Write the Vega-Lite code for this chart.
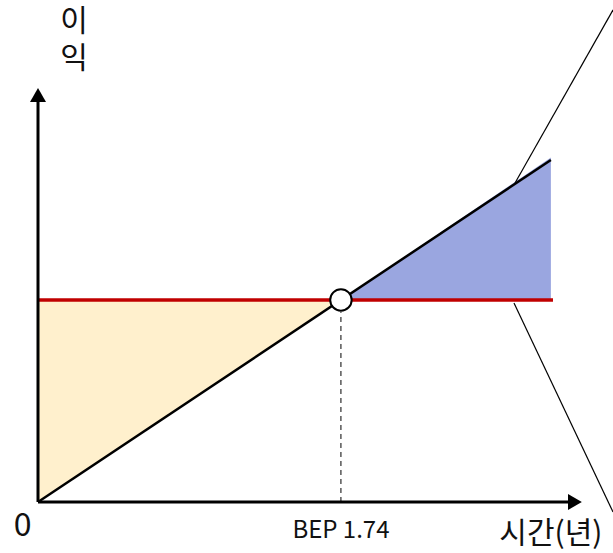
{
  "$schema": "https://vega.github.io/schema/vega-lite/v6.json",
  "width": 613,
  "height": 553,
  "autosize": "none",
  "padding": 0,
  "background": "white",
  "config": {"view": {"stroke": null}},
  "datasets": {
    "loss": [
      {"x": 0, "y": 0, "y2": 1},
      {"x": 1.74, "y": 1, "y2": 1}
    ],
    "profit": [
      {"x": 1.74, "y": 1, "y2": 1},
      {"x": 2.946, "y": 1.705, "y2": 1}
    ],
    "segs": [
      {"kind": "revenue", "x": 0, "y": 0, "x2": 2.946, "y2": 1.693},
      {"kind": "cost", "x": 0, "y": 1, "x2": 2.958, "y2": 1},
      {"kind": "axis", "x": 0, "y": 0, "x2": 0, "y2": 2.0},
      {"kind": "axis", "x": 0, "y": 0, "x2": 3.07, "y2": 0},
      {"kind": "callout", "x": 2.74, "y": 1.579, "x2": 3.303, "y2": 2.436},
      {"kind": "callout", "x": 2.734, "y": 0.985, "x2": 3.303, "y2": -0.05},
      {"kind": "dash", "x": 1.74, "y": 0, "x2": 1.74, "y2": 0.94}
    ],
    "arrows": [
      {"dir": "up", "x": 0, "y": 2.015},
      {"dir": "right", "x": 3.084, "y": 0}
    ],
    "bep": [{"x": 1.74, "y": 1}],
    "labels": [
      {"kind": "zero", "text": "0", "x": -0.089, "y": -0.119},
      {"kind": "bep", "text": "BEP 1.74", "x": 1.74, "y": -0.1436},
      {"kind": "title", "text": "시간(년)", "x": 2.946, "y": -0.158},
      {"kind": "title", "text": "이\n익", "x": 0.207, "y": 2.376}
    ]
  },
  "layer": [
    {
      "data": {"name": "loss"},
      "mark": {"type": "area", "color": "#FFF0CD", "opacity": 1},
      "encoding": {
        "x": {"field": "x", "type": "quantitative", "scale": {"domain": [-0.2183, 3.3027], "nice": false, "zero": false}, "axis": null},
        "y": {"field": "y", "type": "quantitative", "scale": {"domain": [-0.2525, 2.4851], "nice": false, "zero": false}, "axis": null},
        "y2": {"field": "y2"}
      }
    },
    {
      "data": {"name": "profit"},
      "mark": {"type": "area", "color": "#9AA6E0", "opacity": 1},
      "encoding": {
        "x": {"field": "x", "type": "quantitative"},
        "y": {"field": "y", "type": "quantitative"},
        "y2": {"field": "y2"}
      }
    },
    {
      "data": {"name": "segs"},
      "transform": [{"filter": "datum.kind === 'cost'"}],
      "mark": {"type": "rule", "color": "#C00000", "strokeWidth": 3.5},
      "encoding": {
        "x": {"field": "x", "type": "quantitative"},
        "y": {"field": "y", "type": "quantitative"},
        "x2": {"field": "x2"},
        "y2": {"field": "y2"}
      }
    },
    {
      "data": {"name": "segs"},
      "transform": [{"filter": "datum.kind === 'revenue'"}],
      "mark": {"type": "rule", "color": "#000000", "strokeWidth": 2.5},
      "encoding": {
        "x": {"field": "x", "type": "quantitative"},
        "y": {"field": "y", "type": "quantitative"},
        "x2": {"field": "x2"},
        "y2": {"field": "y2"}
      }
    },
    {
      "data": {"name": "segs"},
      "transform": [{"filter": "datum.kind === 'axis'"}],
      "mark": {"type": "rule", "color": "#000000", "strokeWidth": 3},
      "encoding": {
        "x": {"field": "x", "type": "quantitative"},
        "y": {"field": "y", "type": "quantitative"},
        "x2": {"field": "x2"},
        "y2": {"field": "y2"}
      }
    },
    {
      "data": {"name": "segs"},
      "transform": [{"filter": "datum.kind === 'callout'"}],
      "mark": {"type": "rule", "color": "#000000", "strokeWidth": 1.2},
      "encoding": {
        "x": {"field": "x", "type": "quantitative"},
        "y": {"field": "y", "type": "quantitative"},
        "x2": {"field": "x2"},
        "y2": {"field": "y2"}
      }
    },
    {
      "data": {"name": "segs"},
      "transform": [{"filter": "datum.kind === 'dash'"}],
      "mark": {"type": "rule", "color": "#000000", "strokeWidth": 1, "strokeDash": [5, 4]},
      "encoding": {
        "x": {"field": "x", "type": "quantitative"},
        "y": {"field": "y", "type": "quantitative"},
        "x2": {"field": "x2"},
        "y2": {"field": "y2"}
      }
    },
    {
      "data": {"name": "arrows"},
      "mark": {"type": "point", "filled": true, "color": "#000000", "opacity": 1, "size": 256},
      "encoding": {
        "x": {"field": "x", "type": "quantitative"},
        "y": {"field": "y", "type": "quantitative"},
        "shape": {"field": "dir", "type": "nominal", "scale": {"domain": ["up", "right"], "range": ["triangle-up", "triangle-right"]}, "legend": null}
      }
    },
    {
      "data": {"name": "bep"},
      "mark": {"type": "point", "shape": "circle", "filled": true, "fill": "#FFFFFF", "stroke": "#000000", "strokeWidth": 2, "size": 460, "opacity": 1},
      "encoding": {
        "x": {"field": "x", "type": "quantitative"},
        "y": {"field": "y", "type": "quantitative"}
      }
    },
    {
      "data": {"name": "labels"},
      "transform": [{"filter": "datum.kind === 'zero'"}],
      "mark": {"type": "text", "font": "Noto Sans CJK KR", "fontSize": 32, "align": "center", "baseline": "middle", "color": "#111111"},
      "encoding": {
        "x": {"field": "x", "type": "quantitative"},
        "y": {"field": "y", "type": "quantitative"},
        "text": {"field": "text"}
      }
    },
    {
      "data": {"name": "labels"},
      "transform": [{"filter": "datum.kind === 'bep'"}],
      "mark": {"type": "text", "font": "Noto Sans CJK KR", "fontSize": 24, "align": "center", "baseline": "middle", "color": "#111111"},
      "encoding": {
        "x": {"field": "x", "type": "quantitative"},
        "y": {"field": "y", "type": "quantitative"},
        "text": {"field": "text"}
      }
    },
    {
      "data": {"name": "labels"},
      "transform": [{"filter": "datum.kind === 'title'"}],
      "mark": {"type": "text", "font": "Noto Sans CJK KR", "fontSize": 30, "lineHeight": 37, "lineBreak": "\n", "align": "center", "baseline": "middle", "color": "#111111"},
      "encoding": {
        "x": {"field": "x", "type": "quantitative"},
        "y": {"field": "y", "type": "quantitative"},
        "text": {"field": "text"}
      }
    }
  ]
}
